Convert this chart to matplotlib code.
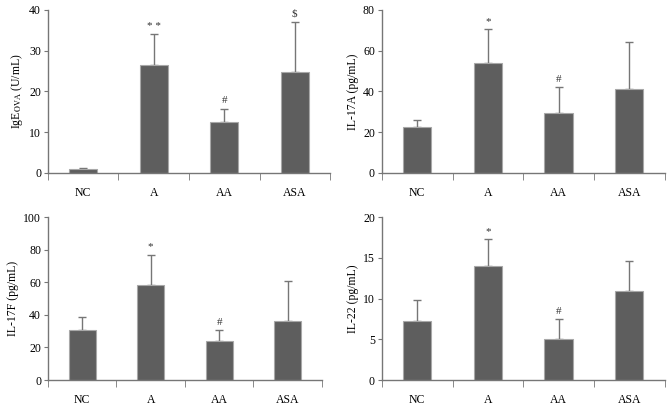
import matplotlib
matplotlib.use("Agg")
import matplotlib.pyplot as plt
import numpy as np

plt.rcParams["font.family"] = ["Liberation Serif", "DejaVu Serif"]
plt.rcParams["mathtext.fontset"] = "stix"
plt.rcParams["font.size"] = 8.5

groups = ["NC", "A", "AA", "ASA"]

ige_mean = [1.0, 26.5, 12.4, 24.7]
ige_err = [0.3, 7.5, 3.4, 12.4]
ige_marks = ["", "* *", "#", "$"]

il17a_mean = [22.5, 53.8, 29.2, 41.0]
il17a_err = [3.5, 16.7, 13.1, 23.3]
il17a_marks = ["", "*", "#", ""]

il17f_mean = [30.5, 58.5, 24.0, 36.5]
il17f_err = [8.0, 18.5, 6.5, 24.5]
il17f_marks = ["", "*", "#", ""]

il22_mean = [7.2, 14.0, 5.0, 10.9]
il22_err = [2.6, 3.3, 2.5, 3.7]
il22_marks = ["", "*", "#", ""]

BAR = "#5e5e5e"
EDGE = "#a8a8a8"
LINE = "#767676"


def panel(ax, mean, err, marks, ymax, ystep, ylabel):
    x = np.arange(len(groups)) + 0.5
    ax.bar(x, mean, width=0.4, color=BAR, edgecolor=EDGE, linewidth=0.8, zorder=2)
    ax.errorbar(x, mean, yerr=[np.zeros(len(mean)), err], fmt="none",
                ecolor=LINE, elinewidth=1.0, capsize=3, capthick=1.0, zorder=1)
    pad = ymax * 0.02
    for xi, m, e, s in zip(x, mean, err, marks):
        if s:
            ax.text(xi, m + e + pad, s, ha="center", va="bottom", fontsize=8, color="#333333")
    ax.set_xlim(0, len(groups))
    ax.set_ylim(0, ymax)
    ax.set_yticks(np.arange(0, ymax + 0.1, ystep))
    ax.set_xticks(x)
    ax.set_xticklabels(groups)
    ax.set_xticks(np.arange(len(groups) + 1), minor=True)
    ax.tick_params(axis="x", which="major", length=0, pad=10)
    ax.tick_params(axis="x", which="minor", length=5, direction="out", color=LINE)
    ax.tick_params(axis="y", length=3, direction="out", color=LINE, pad=2)
    for s in ["top", "right"]:
        ax.spines[s].set_visible(False)
    for s in ["left", "bottom"]:
        ax.spines[s].set_color(LINE)
        ax.spines[s].set_linewidth(1.0)
    ax.set_ylabel(ylabel, labelpad=3)


fig = plt.figure(figsize=(6.7, 4.07), dpi=100)
ax1 = fig.add_axes([0.0716, 0.575, 0.421, 0.4005])
ax2 = fig.add_axes([0.570, 0.575, 0.422, 0.4005])
ax3 = fig.add_axes([0.0716, 0.0663, 0.409, 0.4005])
ax4 = fig.add_axes([0.570, 0.0663, 0.422, 0.4005])

panel(ax1, ige_mean, ige_err, ige_marks, 40, 10, r"IgE$_{\mathrm{OVA}}$ (U/mL)")
panel(ax2, il17a_mean, il17a_err, il17a_marks, 80, 20, "IL-17A (pg/mL)")
panel(ax3, il17f_mean, il17f_err, il17f_marks, 100, 20, "IL-17F (pg/mL)")
panel(ax4, il22_mean, il22_err, il22_marks, 20, 5, "IL-22 (pg/mL)")

fig.savefig("out.png", dpi=100, facecolor="white")
